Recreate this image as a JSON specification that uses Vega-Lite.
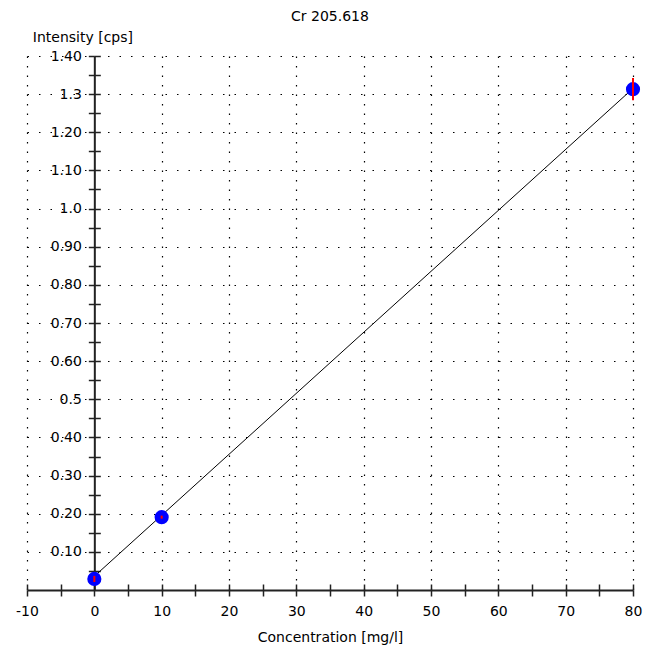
{
  "$schema": "https://vega.github.io/schema/vega-lite/v6.json",
  "width": 606,
  "height": 534,
  "autosize": {"type": "none"},
  "padding": {"left": 27, "top": 56, "right": 13, "bottom": 61},
  "background": "white",
  "title": {"text": "Cr 205.618", "anchor": "middle", "font": "DejaVu Sans", "fontSize": 14, "fontWeight": "normal", "color": "#000", "offset": 6},
  "config": {
    "view": {"stroke": null},
    "axis": {"labelFont": "DejaVu Sans", "labelFontSize": 14, "labelColor": "#000", "titleFont": "DejaVu Sans", "titleFontSize": 14, "titleFontWeight": "normal", "titleColor": "#000", "domainColor": "#222", "domainWidth": 2, "tickColor": "#222", "tickWidth": 1.5, "labelFlush": false, "labelOverlap": false}
  },
  "datasets": {
    "cal": [
      {"conc": 0, "intensity": 0.029, "err": 0.008},
      {"conc": 10, "intensity": 0.191, "err": 0.004},
      {"conc": 80, "intensity": 1.313, "err": 0.029}
    ],
    "fit": [
      {"conc": 0, "fit": 0.036},
      {"conc": 80, "fit": 1.315}
    ]
  },
  "resolve": {"axis": {"x": "independent", "y": "independent"}},
  "layer": [
    {
      "data": {"name": "cal"},
      "transform": [{"calculate": "datum.intensity - datum.err", "as": "lo"}, {"calculate": "datum.intensity + datum.err", "as": "hi"}],
      "mark": {"type": "rule", "strokeWidth": 0, "opacity": 0},
      "encoding": {
        "x": {"field": "conc", "type": "quantitative", "scale": {"domain": [-10, 80], "nice": false, "zero": false},
          "axis": {"orient": "bottom", "values": [-10, 10, 20, 30, 40, 50, 60, 70, 80], "grid": true, "gridColor": "#000", "gridDash": [1.5, 8], "gridWidth": 1.2, "domain": false, "ticks": false, "labels": false, "title": null}},
        "y": {"field": "lo", "type": "quantitative", "scale": {"domain": [0, 1.4], "nice": false},
          "axis": {"orient": "left", "values": [0.1, 0.2, 0.3, 0.4, 0.5, 0.6, 0.7, 0.8, 0.9, 1.0, 1.1, 1.2, 1.3, 1.4], "grid": true, "gridColor": "#000", "gridDash": [1.5, 10], "gridWidth": 1.2, "domain": false, "ticks": false, "labels": false, "title": null}}
      }
    },
    {
      "data": {"name": "fit"},
      "mark": {"type": "line", "color": "#000", "strokeWidth": 1},
      "encoding": {
        "x": {"field": "conc", "type": "quantitative",
          "axis": {"orient": "bottom", "values": [-10, -5, 0, 5, 10, 15, 20, 25, 30, 35, 40, 45, 50, 55, 60, 65, 70, 75, 80], "labelExpr": "datum.value % 10 == 0 ? '' + datum.value : ''", "grid": false, "tickSize": 6, "labelPadding": 8, "title": "Concentration [mg/l]", "titleY": 47, "titleBaseline": "middle"}},
        "y": {"field": "fit", "type": "quantitative",
          "axis": {"orient": "left", "offset": -67.33, "values": [0.05, 0.1, 0.15, 0.2, 0.25, 0.3, 0.35, 0.4, 0.45, 0.5, 0.55, 0.6, 0.65, 0.7, 0.75, 0.8, 0.85, 0.9, 0.95, 1.0, 1.05, 1.1, 1.15, 1.2, 1.25, 1.3, 1.35, 1.4],
            "labelExpr": "abs(datum.value*10 - round(datum.value*10)) > 0.01 ? '' : (indexof([1.3, 1, 0.5], round(datum.value*10)/10) >= 0 ? format(datum.value, '.1f') : format(datum.value, '.2f'))",
            "grid": false, "tickSize": 6, "labelPadding": 7, "title": "Intensity [cps]", "titleAngle": 0, "titleAlign": "left", "titleBaseline": "middle", "titleX": -62, "titleY": -19}}
      }
    },
    {
      "data": {"name": "cal"},
      "mark": {"type": "point", "shape": "circle", "filled": true, "color": "#0000ff", "opacity": 1, "size": 200},
      "encoding": {
        "x": {"field": "conc", "type": "quantitative",
          "axis": {"orient": "top", "offset": -534, "values": [-10, -5, 0, 5, 10, 15, 20, 25, 30, 35, 40, 45, 50, 55, 60, 65, 70, 75, 80], "grid": false, "domain": false, "labels": false, "tickSize": 6, "title": null}},
        "y": {"field": "intensity", "type": "quantitative",
          "axis": {"orient": "right", "offset": -538.67, "values": [0.05, 0.1, 0.15, 0.2, 0.25, 0.3, 0.35, 0.4, 0.45, 0.5, 0.55, 0.6, 0.65, 0.7, 0.75, 0.8, 0.85, 0.9, 0.95, 1.0, 1.05, 1.1, 1.15, 1.2, 1.25, 1.3, 1.35, 1.4], "grid": false, "domain": false, "labels": false, "tickSize": 6, "title": null}}
      }
    },
    {
      "data": {"name": "cal"},
      "transform": [{"calculate": "datum.intensity - datum.err", "as": "lo"}, {"calculate": "datum.intensity + datum.err", "as": "hi"}],
      "mark": {"type": "rule", "color": "#ff0000", "strokeWidth": 2},
      "encoding": {
        "x": {"field": "conc", "type": "quantitative", "axis": null},
        "y": {"field": "lo", "type": "quantitative", "axis": null},
        "y2": {"field": "hi"}
      }
    }
  ]
}
